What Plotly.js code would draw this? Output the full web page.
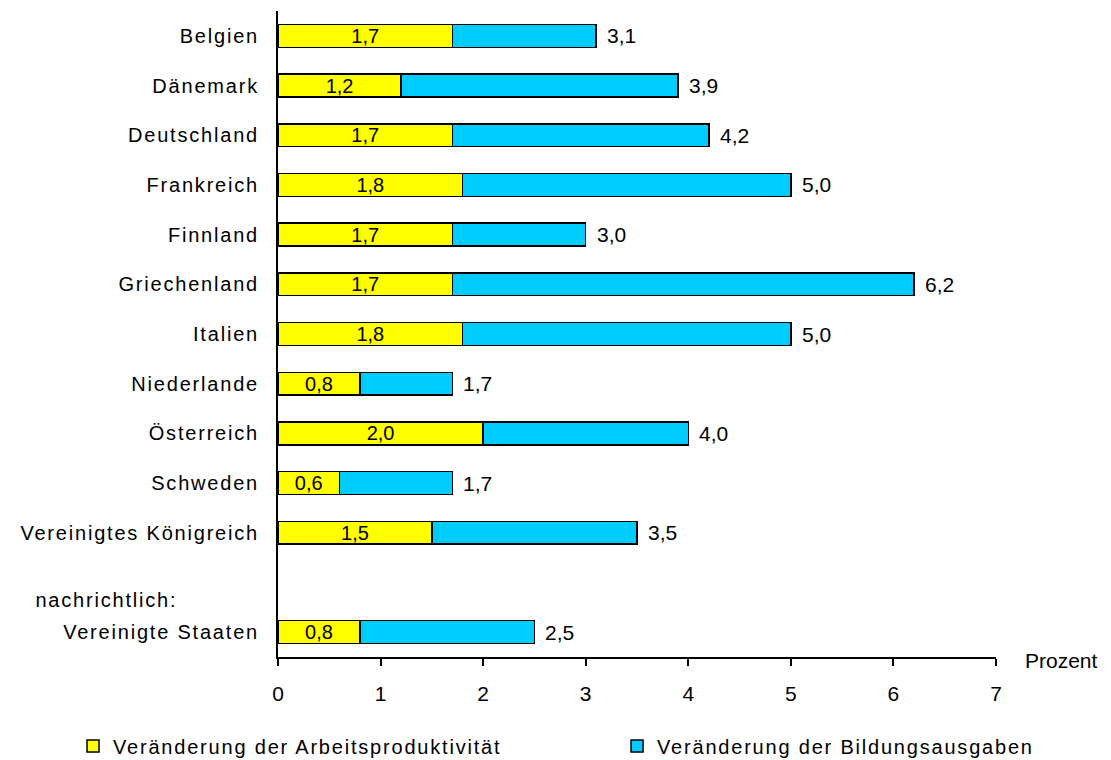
<!DOCTYPE html>
<html>
<head>
<meta charset="utf-8">
<script src="https://cdn.plot.ly/plotly-3.0.1.min.js"></script>
<style>
  html, body { margin: 0; padding: 0; background: #fff; }
  #chart { width: 1111px; height: 760px; }
  .ytick text, text.legendtext, g.legend text, g.legend2 text,
  .annotation[data-index="0"] text { letter-spacing: 1.8px; }
  g.legend, g.legend *, g.legend2, g.legend2 * { clip-path: none !important; }
</style>
</head>
<body>
<div id="chart"></div>
<script>
// Data
const countries = ["Belgien", "Dänemark", "Deutschland", "Frankreich", "Finnland", "Griechenland",
                   "Italien", "Niederlande", "Österreich", "Schweden", "Vereinigtes Königreich",
                   "Vereinigte Staaten"];
const productivity = [1.7, 1.2, 1.7, 1.8, 1.7, 1.7, 1.8, 0.8, 2.0, 0.6, 1.5, 0.8];
const totals       = [3.1, 3.9, 4.2, 5.0, 3.0, 6.2, 5.0, 1.7, 4.0, 1.7, 3.5, 2.5];
const seriesNames  = ["Veränderung der Arbeitsproduktivität", "Veränderung der Bildungsausgaben"];
const gapCategory  = " ";
const noteLabel    = "nachrichtlich:";
const axisLabel    = "Prozent";
const xTicks       = [0, 1, 2, 3, 4, 5, 6, 7];

const education = totals.map((t, i) => +(t - productivity[i]).toFixed(2));
const categoryOrder = countries.slice(0, 11).concat([gapCategory], countries.slice(11));

const FONT = "Liberation Sans, Arial, sans-serif";
const TXT = 20;

const traces = [
  {
    type: "bar", orientation: "h", name: seriesNames[0], legend: "legend",
    y: countries, x: productivity,
    marker: { color: "#FFFF00", line: { color: "#000000", width: 1.5 } },
    width: 0.46,
    text: productivity, texttemplate: "%{x:.1f}",
    textposition: "inside", insidetextanchor: "middle", textangle: 0,
    constraintext: "none",
    textfont: { family: FONT, size: 20, color: "#000000" },
    hoverinfo: "skip"
  },
  {
    type: "bar", orientation: "h", name: seriesNames[1], legend: "legend2",
    y: countries, x: education,
    marker: { color: "#00CCFF", line: { color: "#000000", width: 1.5 } },
    width: 0.46,
    hoverinfo: "skip"
  }
];

const annotations = [
  {
    text: noteLabel, xref: "paper", yref: "y", x: -0.3230, y: gapCategory,
    xanchor: "left", yanchor: "middle", yshift: -18, showarrow: false,
    font: { family: FONT, size: TXT, color: "#000000" }
  },
  {
    text: axisLabel, xref: "paper", yref: "paper", x: 1.0376, y: 0,
    xanchor: "left", yanchor: "middle", yshift: -3, showarrow: false,
    font: { family: FONT, size: 21, color: "#000000" }
  }
].concat(totals.map((t, i) => ({
  text: t.toFixed(1).replace(".", ","), x: t, y: countries[i], xref: "x", yref: "y",
  xanchor: "left", yanchor: "middle", xshift: 9, showarrow: false,
  font: { family: FONT, size: 21, color: "#000000" }
})));

const legendBase = {
  orientation: "h", xanchor: "left", y: -0.1378, yanchor: "middle",
  font: { family: FONT, size: TXT, color: "#000000" },
  bgcolor: "rgba(0,0,0,0)"
};

const layout = {
  width: 1111, height: 760,
  margin: { l: 278, r: 115, t: 11, b: 103, pad: 0, autoexpand: false },
  paper_bgcolor: "#ffffff", plot_bgcolor: "#ffffff",
  barmode: "stack",
  separators: ",.",
  font: { family: FONT, size: TXT, color: "#000000" },
  showlegend: true,
  legend: Object.assign({}, legendBase, { x: -0.2855 }),
  legend2: Object.assign({}, legendBase, { x: 0.4722 }),
  xaxis: {
    range: [0, 7], tickvals: xTicks, showgrid: false, zeroline: false,
    showline: true, linecolor: "#000000", linewidth: 2,
    ticks: "outside", ticklen: 7, tickwidth: 2, tickcolor: "#000000",
    ticklabelstandoff: 10,
    tickfont: { family: FONT, size: 21, color: "#000000" },
    fixedrange: true
  },
  yaxis: {
    type: "category", categoryorder: "array", categoryarray: categoryOrder,
    range: [categoryOrder.length - 0.5, -0.5],
    showgrid: false, zeroline: false,
    showline: true, linecolor: "#000000", linewidth: 2,
    ticks: "", ticklabelstandoff: 13,
    tickfont: { family: FONT, size: TXT, color: "#000000" },
    fixedrange: true
  },
  annotations: annotations
};

function spaceLegendText() {
  const svg = document.querySelector("#chart svg.main-svg");
  document.querySelectorAll("#chart text").forEach(function (t) {
    if (seriesNames.indexOf(t.textContent) >= 0) {
      t.style.letterSpacing = "1.8px";
      t.setAttribute("letter-spacing", "1.8px");
      let el = t;
      while (el && el.tagName && el.tagName.toLowerCase() !== "svg") {
        el.removeAttribute("clip-path");
        el = el.parentNode;
      }
    }
  });
}

Plotly.newPlot("chart", traces, layout, { staticPlot: true, displayModeBar: false })
  .then(function (gd) {
    spaceLegendText();
    setTimeout(spaceLegendText, 0);
    gd.on("plotly_afterplot", spaceLegendText);
  });
</script>
</body>
</html>
